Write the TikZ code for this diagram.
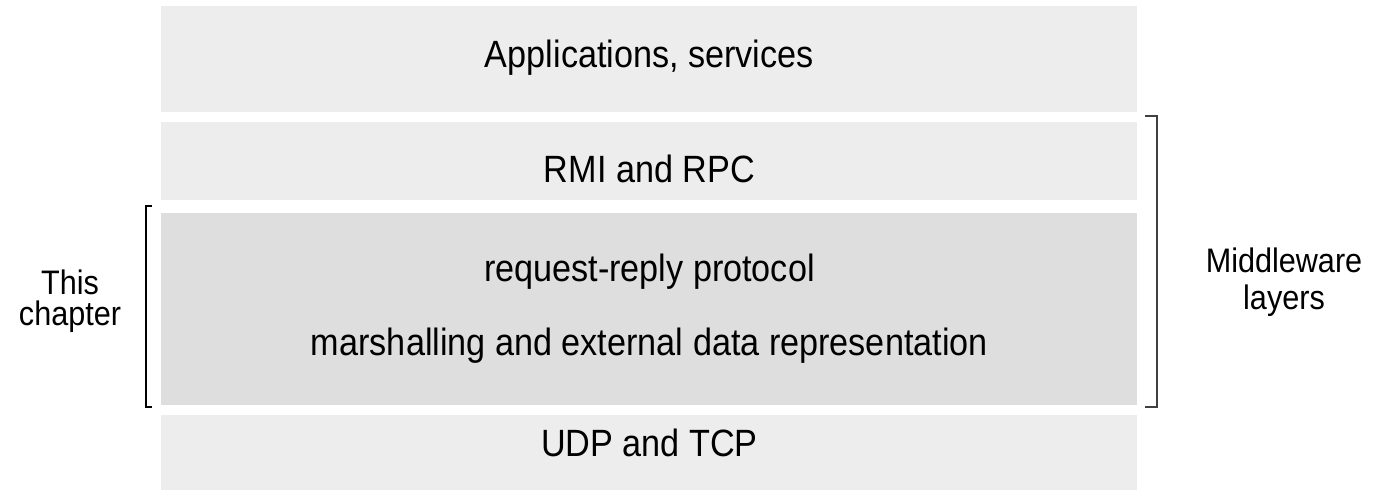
\documentclass[tikz,border=0pt]{standalone}
\usepackage{fontspec}
\setmainfont{Liberation Sans}[FakeStretch=0.9]
\usepackage{xcolor}
\usetikzlibrary{positioning}

\definecolor{layerlight}{HTML}{EDEDED}
\definecolor{layerdark}{HTML}{DEDEDE}

\begin{document}
\begin{tikzpicture}[
    x=0.5pt, y=-0.5pt,
    every node/.style={font=\fontsize{19}{22.8}\selectfont},
    layer/.style={rectangle, fill=layerlight, minimum width=488pt, inner sep=0pt, align=center, text depth=0pt},
    core/.style={layer, fill=layerdark, text depth=},
    side/.style={align=center, anchor=base, font=\fontsize{17}{20}\selectfont},
    bracket/.style={line width=0.8pt},
]
\useasboundingbox (0,0) rectangle (1391,489);

% Layer stack
\node[layer, minimum height=53pt, text height=8pt, anchor=north west] (apps) at (161,6) {Applications, services};
\node[layer, minimum height=39pt, text height=21pt, below=4.5pt of apps] (rmi) {RMI and RPC};
\node[core, minimum height=96pt, below=6pt of rmi] (reqrep) {request-reply protocol\\[14.2pt]marshalling and external data representation};
\node[layer, minimum height=38pt, text height=4pt, below=4.5pt of reqrep] (udp) {UDP and TCP};

% Brackets
\coordinate (chtop) at (152,206);
\coordinate (chbot) at (152,407);
\draw[bracket] (chtop) -- ++(-6,0) |- (chbot);
\coordinate (mwtop) at (1145,116);
\coordinate (mwbot) at (1145,407);
\draw[bracket, draw=black!75] (mwtop) -- ++(12,0) |- (mwbot);

% Labels
\node[side] (chapter) at (70,325) {This\\[-4.5pt]chapter};
\node[side] (middleware) at (1284,309) {Middleware\\[-1.5pt]layers};

\end{tikzpicture}
\end{document}
